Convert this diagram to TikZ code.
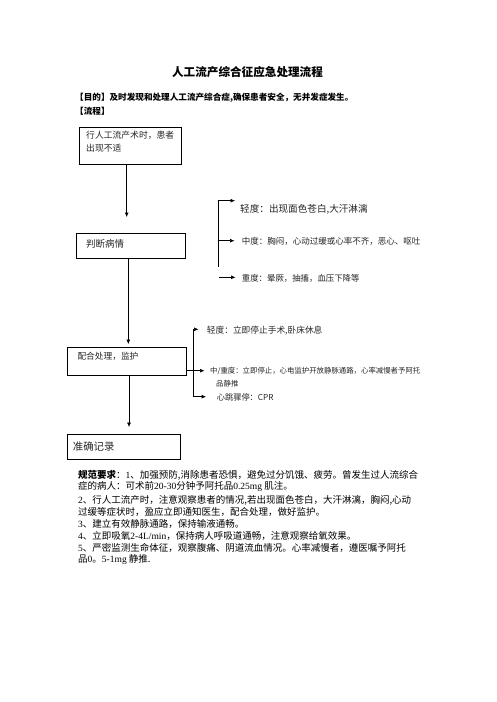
\documentclass[tikz,border=0pt]{standalone}
\usepackage{fontspec}
\setmainfont{Liberation Serif}
\newfontfamily\cjk{Noto Sans CJK SC}
\newfontfamily\latf{Liberation Serif}
\usetikzlibrary{arrows.meta}
\begin{document}
\begin{tikzpicture}[x=1pt,y=-1pt,font=\cjk,
  box/.style={draw,line width=0.8pt,anchor=north west,inner sep=0pt},
  lbl/.style={anchor=west,inner sep=0pt,text=black!85},
  par/.style={anchor=west,inner sep=0pt,text=black,font=\cjk\fontsize{9.5}{11}\selectfont},
  arr/.style={-{Latex[length=4.5pt,width=4pt]},line width=0.6pt},
  ln/.style={line width=0.6pt}]
\useasboundingbox[fill=white] (0,0) rectangle (496,702);

% headings
\node[inner sep=0pt,font=\cjk\bfseries\fontsize{11.6}{13}\selectfont] (title) at (247.5,72.3) {人工流产综合征应急处理流程};
\node[anchor=west,inner sep=0pt,font=\cjk\bfseries\fontsize{8.6}{10}\selectfont] (aim) at (75,97.3) {【目的】及时发现和处理人工流产综合症,确保患者安全，无并发症发生。};
\node[anchor=west,inner sep=0pt,font=\cjk\bfseries\fontsize{8.6}{10}\selectfont] (flow) at (75,111.7) {【流程】};

% boxes
\node[box,minimum width=101.7pt,minimum height=37pt] (b1) at (79,127.3) {};
\node[lbl,font=\cjk\fontsize{8.8}{10}\selectfont] (t1a) at (86,135.5) {行人工流产术时，患者};
\node[lbl,font=\cjk\fontsize{8.8}{10}\selectfont] (t1b) at (86,148.5) {出现不适};

\node[box,minimum width=108.7pt,minimum height=24.4pt] (b2) at (76,233.3) {};
\node[lbl,font=\cjk\fontsize{9.5}{11}\selectfont] (t2) at (86,244) {判断病情};

\node[box,minimum width=118.4pt,minimum height=28pt] (b3) at (67.3,347.3) {};
\node[lbl,font=\cjk\fontsize{8.7}{10}\selectfont] (t3) at (77.3,356.5) {配合处理，监护};

\node[box,minimum width=112.7pt,minimum height=25pt] (b4) at (67.3,434.3) {};
\node[lbl,font=\cjk\fontsize{10.4}{12}\selectfont] (t4) at (72.7,446.5) {准确记录};

% main arrows
\coordinate (a1) at (126.7,217);
\coordinate (a2) at (128.3,344);
\coordinate (a3) at (129,427);
\draw[arr] (b1.south -| a1) -- (a1);
\draw[arr] (b2.south -| a2) -- (a2);
\draw[arr] (b3.south -| a3) -- (a3);

% severity labels
\node[lbl,font=\cjk\fontsize{9.6}{11}\selectfont] (s1) at (240,209.5) {轻度：出现面色苍白,大汗淋漓};
\node[lbl,font=\cjk\fontsize{8.5}{10}\selectfont] (s2) at (241.7,241.5) {中度：胸闷，心动过缓或心率不齐，恶心、呕吐};
\node[lbl,font=\cjk\fontsize{8.4}{10}\selectfont] (s3) at (241.7,278.3) {重度：晕厥，抽搐，血压下降等};

\coordinate (v1t) at (218.3,200.7);
\coordinate (v1b) at (218.3,266.7);
\coordinate (e1) at (235,200.7);
\coordinate (e2) at (234.5,240.7);
\coordinate (e3s) at (219,277.3);
\coordinate (e3) at (235.5,277.3);
\draw[arr] (v1b) -- (v1t) -- (e1);
\draw[arr] (v1b |- e2) -- (e2);
\draw[arr] (e3s) -- (e3);

% treatment labels
\node[lbl,font=\cjk\fontsize{8.7}{10}\selectfont] (r1) at (206.7,330.5) {轻度：立即停止手术,卧床休息};
\node[lbl,font=\cjk\fontsize{7.4}{9}\selectfont] (r2a) at (210,371.5) {中/重度：立即停止，心电监护开放静脉通路，心率减慢者予阿托};
\node[lbl,font=\cjk\fontsize{7.4}{9}\selectfont] (r2b) at (216,383.3) {品静推};
\node[lbl,font=\cjk\fontsize{8.2}{10}\selectfont] (r3) at (216.7,397.3) {心跳骤停：CPR};

\coordinate (v2t) at (193.3,329.3);
\coordinate (v2b) at (193.3,396.7);
\coordinate (f1) at (198.5,329.3);
\coordinate (f2) at (204.5,370.7);
\coordinate (f3) at (206,396.7);
\draw[arr] (v2b) -- (v2t) -- (f1);
\draw[arr] (b3.east |- f2) -- (f2);
\draw[arr] (v2b) -- (f3);

% requirements paragraph
\node[par] (p1) at (78,475) {{\bfseries 规范要求}：{\latf 1}、加强预防,消除患者恐惧，避免过分饥饿、疲劳。曾发生过人流综合};
\node[par] (p2) at (78,487) {症的病人：可术前{\latf 20-30}分钟予阿托品{\latf 0.25mg} 肌注。};
\node[par] (p3) at (78,500) {{\latf 2}、行人工流产时，注意观察患者的情况,若出现面色苍白，大汗淋漓，胸闷,心动};
\node[par] (p4) at (78,512) {过缓等症状时，盈应立即通知医生，配合处理，做好监护。};
\node[par] (p5) at (78,524) {{\latf 3}、建立有效静脉通路，保持输液通畅。};
\node[par] (p6) at (78,536) {{\latf 4}、立即吸氧{\latf 2-4L/min}，保持病人呼吸道通畅，注意观察给氧效果。};
\node[par] (p7) at (78,548) {{\latf 5}、严密监测生命体征，观察腹痛、阴道流血情况。心率减慢者，遵医嘱予阿托};
\node[par] (p8) at (78,560) {品{\latf 0}。{\latf 5-1mg} 静推.};
\end{tikzpicture}
\end{document}
